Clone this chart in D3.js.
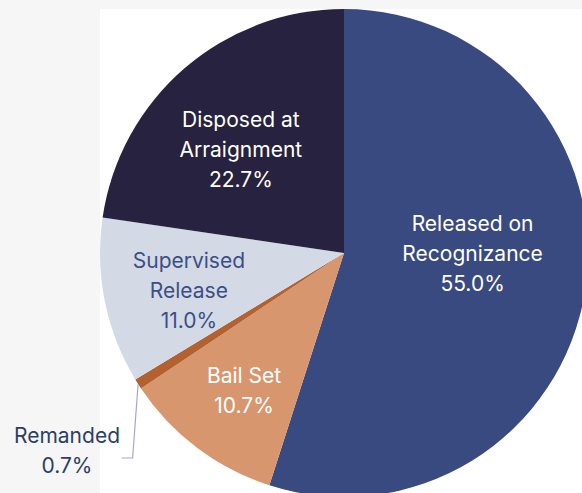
<!DOCTYPE html>
<html>
<head>
<meta charset="utf-8">
<script src="https://cdn.jsdelivr.net/npm/d3@7"></script>
<style>
  html, body { margin: 0; padding: 0; background: #f6f6f6; }
  svg { display: block; }
</style>
</head>
<body>
<svg id="chart" width="582" height="493"></svg>
<script>
// Case outcomes at arraignment (share of cases, %)
const categories = ["Released on Recognizance", "Bail Set", "Remanded", "Supervised Release", "Disposed at Arraignment"];
const values = [55.0, 10.7, 0.7, 11.0, 22.7];
const valueLabels = ["55.0%", "10.7%", "0.7%", "11.0%", "22.7%"];
const labelLines = [
  ["Released on", "Recognizance"],
  ["Bail Set"],
  ["Remanded"],
  ["Supervised", "Release"],
  ["Disposed at", "Arraignment"]
];

const colors = ["#394a81", "#d8966f", "#b3612e", "#d3d9e5", "#27223f"];
const textColors = ["#ffffff", "#ffffff", "#2c3e68", "#3b4f87", "#ffffff"];

const width = 582, height = 493;
const cx = 344, cy = 253, R = 244;
const fontSize = 21, lineGap = 30, capH = 15;

// label placement inside each slice: [radius fraction, angle in degrees from 12 o'clock]
const inside = {
  "Released on Recognizance": [0.527, 90],
  "Bail Set": [0.697, 216],
  "Supervised Release": [0.654, 256.4],
  "Disposed at Arraignment": [0.598, 315]
};

const svg = d3.select("#chart");

// white plot area behind the pie
svg.append("rect")
  .attr("x", cx - R).attr("y", cy - R)
  .attr("width", 2 * R).attr("height", 2 * R)
  .attr("fill", "#ffffff");

const pie = d3.pie().sort(null).value(d => d.v);
const data = categories.map((c, i) => ({ c, v: values[i], i }));
const arcs = pie(data);
const arc = d3.arc().innerRadius(0).outerRadius(R);

const g = svg.append("g").attr("transform", `translate(${cx},${cy})`);

g.selectAll("path.slice")
  .data(arcs)
  .join("path")
  .attr("class", "slice")
  .attr("d", arc)
  .attr("fill", d => colors[d.data.i]);

const font = "Inter, Roboto, sans-serif";

function drawLabel(lines, x, y, color) {
  const t = svg.append("text")
    .attr("font-family", font)
    .attr("font-size", fontSize)
    .attr("fill", color)
    .attr("text-anchor", "middle");
  const n = lines.length;
  lines.forEach((s, k) => {
    t.append("tspan")
      .attr("x", x)
      .attr("y", y + (k - (n - 1) / 2) * lineGap + capH / 2)
      .text(s);
  });
}

arcs.forEach(a => {
  const i = a.data.i;
  const lines = labelLines[i].concat([valueLabels[i]]);
  const place = inside[a.data.c];
  if (place) {
    const ang = place[1] * Math.PI / 180;
    const r = place[0] * R;
    drawLabel(lines, cx + r * Math.sin(ang), cy - r * Math.cos(ang), textColors[i]);
  } else {
    // small slice: label outside with an elbow leader line
    const mid = (a.startAngle + a.endAngle) / 2;
    const px = cx + R * Math.sin(mid), py = cy - R * Math.cos(mid);
    const ex = px - 5.5, ey = 458;
    svg.append("path")
      .attr("d", `M${px},${py}L${ex},${ey}L${ex - 11},${ey}`)
      .attr("fill", "none")
      .attr("stroke", "#a9a3d3")
      .attr("stroke-width", 1.2);
    drawLabel(lines, 67, 450, textColors[i]);
  }
});
</script>
</body>
</html>
